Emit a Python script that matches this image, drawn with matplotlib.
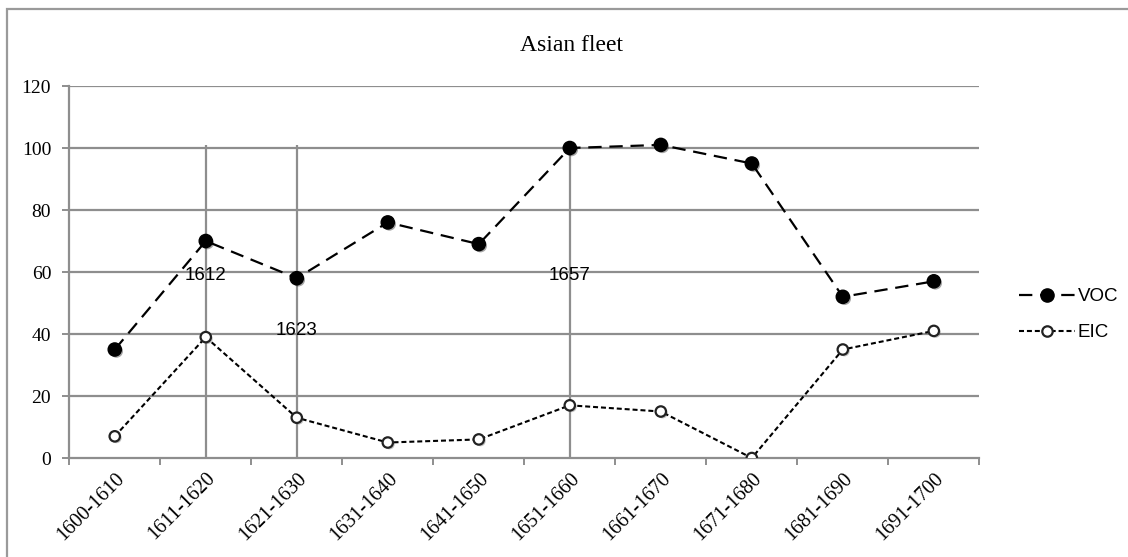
import matplotlib
matplotlib.use("Agg")
import matplotlib.pyplot as plt
from matplotlib.patches import Rectangle
from matplotlib import patheffects as pe

# decades and ships sent to Asia
periods = ["1600-1610", "1611-1620", "1621-1630", "1631-1640", "1641-1650",
           "1651-1660", "1661-1670", "1671-1680", "1681-1690", "1691-1700"]
voc = [35, 70, 58, 76, 69, 100, 101, 95, 52, 57]
eic = [7, 39, 13, 5, 6, 17, 15, 0, 35, 41]

# marker years drawn as vertical rules over their decade
event_years = ["1612", "1623", "1657"]
event_period = ["1611-1620", "1621-1630", "1651-1660"]
event_label_y = [59, 41, 59]
event_top = 101

GRID = "#8e8e8e"
SERIF = "Liberation Serif"
SANS = "Liberation Sans"

fig = plt.figure(figsize=(11.28, 5.57), dpi=100)
ax = fig.add_axes([0.0614, 0.1777, 0.8068, 0.6679])

x = list(range(len(periods)))

for yv in range(20, 121, 20):
    ax.axhline(yv, color=GRID, linewidth=1.6, zorder=0)

for yr, per, ly in zip(event_years, event_period, event_label_y):
    xi = periods.index(per)
    ax.vlines(xi, 0, event_top, color=GRID, linewidth=1.6, zorder=1)
    ax.text(xi, ly, yr, ha="center", va="center", fontsize=13.5,
            family=SANS, zorder=4)

shadow = [pe.SimplePatchShadow(offset=(1.2, -1.2), alpha=0.35), pe.Normal()]

voc_dash = (6, 3.5)
eic_dash = (2.4, 1.4)

ax.plot(x, voc, color="black", linewidth=1.6, dashes=voc_dash, zorder=3)
ax.plot(x, voc, linestyle="none", marker="o", markersize=9.5,
        color="black", path_effects=shadow, zorder=5)
ax.plot(x, eic, color="black", linewidth=1.5, dashes=eic_dash, zorder=3)
ax.plot(x, eic, linestyle="none", marker="o", markersize=7.5,
        markerfacecolor="white", markeredgecolor="#222222",
        markeredgewidth=1.6, path_effects=shadow, zorder=5)

h_voc, = ax.plot([], [], color="black", linewidth=1.6, dashes=voc_dash,
                 marker="o", markersize=9.5, label="VOC")
h_eic, = ax.plot([], [], color="black", linewidth=1.5, dashes=eic_dash,
                 marker="o", markersize=7.5, markerfacecolor="white",
                 markeredgecolor="#222222", markeredgewidth=1.6, label="EIC")
fig.legend(handles=[h_voc, h_eic], loc="center left",
           bbox_to_anchor=(0.888, 0.435), frameon=False, handlelength=3.0,
           handletextpad=0.15, labelspacing=1.0, prop={"family": SANS, "size": 13.5})

ax.set_xlim(-0.5, len(periods) - 0.5)
ax.set_ylim(0, 120)
ax.set_yticks(range(0, 121, 20))
ax.set_yticklabels([str(v) for v in range(0, 121, 20)], family=SERIF, fontsize=14)

ax.set_xticks([i - 0.5 for i in range(len(periods) + 1)])
ax.set_xticklabels([])
ax.set_xticks(x, minor=True)
ax.set_xticklabels(periods, minor=True, rotation=45, ha="right",
                   rotation_mode="anchor", family=SERIF, fontsize=14.5)
ax.tick_params(axis="x", which="minor", length=0, pad=8)
ax.tick_params(axis="both", which="major", length=5, width=1.4, color=GRID)
ax.tick_params(axis="y", pad=8)

for side in ("top", "right"):
    ax.spines[side].set_visible(False)
for side in ("left", "bottom"):
    ax.spines[side].set_color(GRID)
    ax.spines[side].set_linewidth(1.6)

fig.text(0.507, 0.919, "Asian fleet", ha="center", va="center",
         family=SERIF, fontsize=17)

fig.patches.append(Rectangle((0.0062, -0.05), 1.05, 1.0333, transform=fig.transFigure,
                             fill=False, edgecolor="#9a9a9a", linewidth=1.6))

fig.savefig("out.png", dpi=100, facecolor="white")
